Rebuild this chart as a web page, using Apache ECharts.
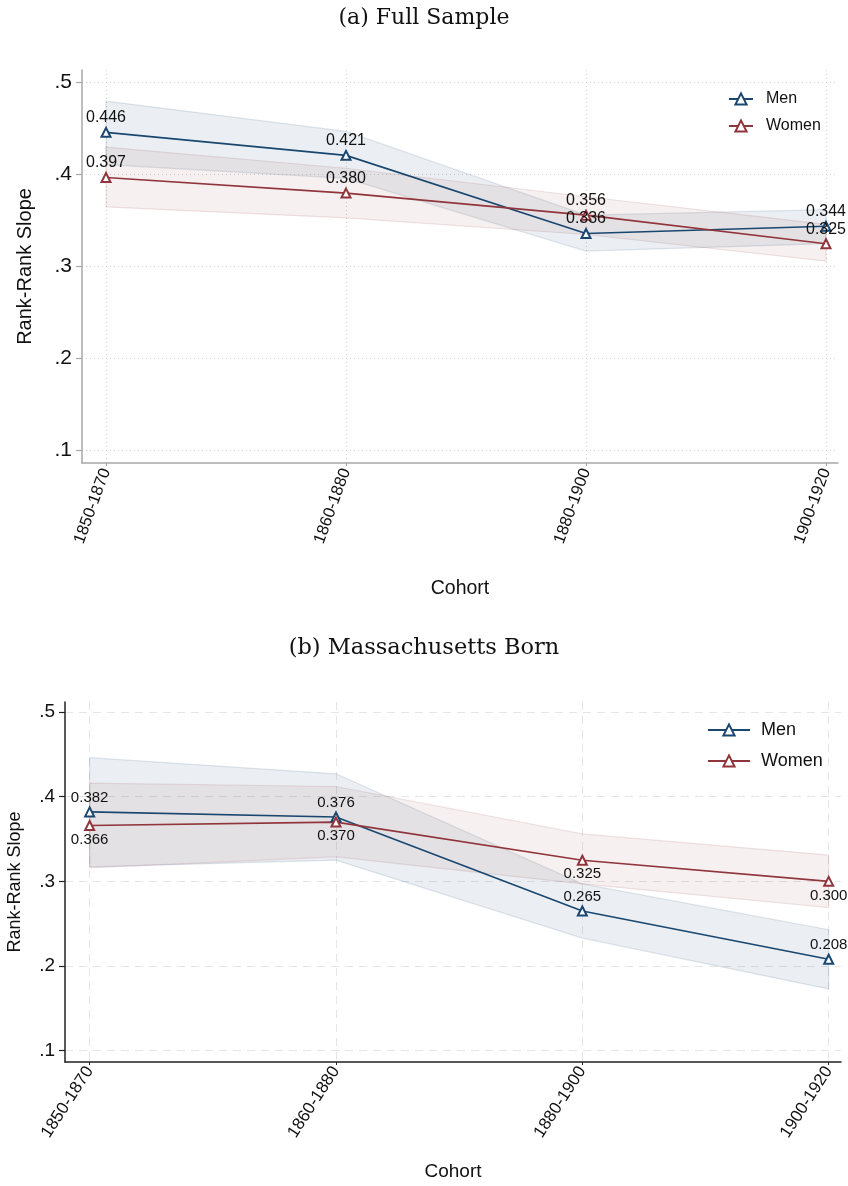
<!DOCTYPE html>
<html>
<head>
<meta charset="utf-8">
<script src="https://cdn.jsdelivr.net/npm/echarts@6/dist/echarts.min.js"></script>
<style>
  html, body { margin: 0; padding: 0; background: #fff; }
  #chart { width: 848px; height: 1186px; }
</style>
</head>
<body>
<div id="chart"></div>
<script>
// Birth cohorts on the horizontal axis
const cohorts = ['1850-1870', '1860-1880', '1880-1900', '1900-1920'];
const yTicks = [0.1, 0.2, 0.3, 0.4, 0.5];

// (a) Full sample: rank-rank slopes with 95% confidence bands
const fullMen = [0.446, 0.421, 0.336, 0.344];
const fullMenLo = [0.411, 0.396, 0.317, 0.325];
const fullMenHi = [0.480, 0.447, 0.356, 0.362];
const fullWomen = [0.397, 0.380, 0.356, 0.325];
const fullWomenLo = [0.365, 0.353, 0.335, 0.306];
const fullWomenHi = [0.430, 0.407, 0.376, 0.346];

// (b) Massachusetts born
const maMen = [0.382, 0.376, 0.265, 0.208];
const maMenLo = [0.317, 0.325, 0.233, 0.173];
const maMenHi = [0.446, 0.427, 0.297, 0.243];
const maWomen = [0.366, 0.370, 0.325, 0.300];
const maWomenLo = [0.316, 0.329, 0.297, 0.269];
const maWomenHi = [0.416, 0.412, 0.356, 0.331];

const NAVY = '#1a476f';
const MAROON = '#90353b';
const SANS = '"Liberation Sans", Arial, Helvetica, sans-serif';
const SERIF = '"DejaVu Serif", "Liberation Serif", serif';

const chart = echarts.init(document.getElementById('chart'), null, { renderer: 'canvas' });

const idx = cohorts.map((_, i) => i);
const pts = (vals) => vals.map((v, i) => [i, v]);

// Confidence band drawn as one polygon through the axis scales
function band(name, gi, lo, hi, color) {
  return {
    type: 'custom', name: name, xAxisIndex: gi, yAxisIndex: gi, z: 1,
    silent: true,
    data: idx.map(i => [i, lo[i], hi[i]]),
    encode: { x: 0, y: [1, 2] },
    renderItem: function (params, api) {
      if (params.dataIndex !== 0) return null;
      const upper = hi.map((v, i) => api.coord([i, v]));
      const lower = lo.map((v, i) => api.coord([i, v])).reverse();
      return {
        type: 'polygon',
        shape: { points: upper.concat(lower) },
        style: { fill: color.fill, stroke: color.stroke, lineWidth: 1.2 }
      };
    }
  };
}

function line(name, gi, vals, color, pos, fs) {
  return {
    type: 'line', name: name, xAxisIndex: gi, yAxisIndex: gi, z: 3,
    data: pts(vals),
    symbol: 'emptyTriangle', symbolSize: 9,
    lineStyle: { color: color, width: 1.6 },
    itemStyle: { color: color, borderColor: color, borderWidth: 1.5 },
    label: {
      show: true, position: pos, distance: 1,
      formatter: p => p.value[1].toFixed(3),
      color: '#111', fontFamily: SANS, fontSize: fs
    },
    emphasis: { disabled: true }
  };
}

function xAxis(gi, cfg) {
  return {
    type: 'value', gridIndex: gi, min: -0.1, max: 3.05,
    name: 'Cohort', nameLocation: 'middle', nameGap: cfg.nameGap,
    nameTextStyle: { fontFamily: SANS, fontSize: cfg.nameSize, color: '#111' },
    axisLine: { show: true, onZero: false, lineStyle: { color: cfg.axisColor, width: 1.5 } },
    axisTick: { show: true, length: 3, customValues: idx, lineStyle: { color: cfg.axisColor } },
    axisLabel: {
      customValues: idx, rotate: cfg.rotate, margin: 6,
      formatter: v => cohorts[Math.round(v)] || '',
      fontFamily: SANS, fontSize: cfg.labelSize, color: '#111'
    },
    splitLine: { show: true, lineStyle: { color: cfg.gridColor, type: cfg.gridType, width: 1 } }
  };
}

function yAxis(gi, cfg) {
  return {
    type: 'value', gridIndex: gi, min: cfg.min, max: cfg.max,
    name: 'Rank-Rank Slope', nameLocation: 'middle', nameGap: cfg.nameGap,
    nameTextStyle: { fontFamily: SANS, fontSize: cfg.nameSize, color: '#111' },
    axisLine: { show: true, onZero: false, lineStyle: { color: cfg.axisColor, width: 1.5 } },
    axisTick: { show: true, length: 6, customValues: yTicks, lineStyle: { color: cfg.axisColor, width: 1.2 } },
    axisLabel: {
      customValues: yTicks, margin: 10,
      formatter: v => String(Math.round(v * 10) / 10).replace(/^0/, ''),
      fontFamily: SANS, fontSize: cfg.labelSize, color: '#111'
    },
    splitLine: { show: true, lineStyle: { color: cfg.gridColor, type: cfg.gridType, width: 1 } }
  };
}

const blueBand = { fill: 'rgba(26,71,111,0.085)', stroke: 'rgba(26,71,111,0.13)' };
const redBand = { fill: 'rgba(144,53,59,0.075)', stroke: 'rgba(144,53,59,0.13)' };

const option = {
  backgroundColor: '#fff',
  animation: false,
  title: [
    { text: '(a) Full Sample', left: 'center', top: 2,
      textStyle: { fontFamily: SERIF, fontWeight: 'normal', fontSize: 22, color: '#111' } },
    { text: '(b) Massachusetts Born', left: 'center', top: 632,
      textStyle: { fontFamily: SERIF, fontWeight: 'normal', fontSize: 22.5, color: '#111' } }
  ],
  legend: [
    { orient: 'vertical', left: 723, top: 86, itemWidth: 24, itemHeight: 14, itemGap: 11,
      data: ['Men', 'Women'],
      textStyle: { fontFamily: SANS, fontSize: 16, color: '#111', padding: [0, 0, 0, 8] } },
    { orient: 'vertical', left: 702, top: 716, itemWidth: 42, itemHeight: 14, itemGap: 13,
      data: ['Men', 'Women'],
      textStyle: { fontFamily: SANS, fontSize: 18, color: '#111', padding: [0, 0, 0, 6] } }
  ],
  grid: [
    { left: 82, right: 10, top: 70, height: 393, outerBoundsMode: 'none' },
    { left: 65, right: 7, top: 702, height: 360, outerBoundsMode: 'none' }
  ],
  xAxis: [
    xAxis(0, { nameGap: 116, nameSize: 19.5, axisColor: '#a8a8a8', rotate: 70, labelSize: 16.5,
               gridColor: '#d0d0d0', gridType: [1, 3] }),
    xAxis(1, { nameGap: 100, nameSize: 19, axisColor: '#222', rotate: 57, labelSize: 17,
               gridColor: '#e6e6e6', gridType: [8, 6] })
  ],
  yAxis: [
    yAxis(0, { min: 0.0866, max: 0.5138, nameGap: 47, nameSize: 20, axisColor: '#a8a8a8', labelSize: 21,
               gridColor: '#d0d0d0', gridType: [1, 3] }),
    yAxis(1, { min: 0.0867, max: 0.5118, nameGap: 41, nameSize: 18, axisColor: '#222', labelSize: 19,
               gridColor: '#e6e6e6', gridType: [8, 6] })
  ],
  series: [
    band('Men CI (a)', 0, fullMenLo, fullMenHi, blueBand),
    band('Women CI (a)', 0, fullWomenLo, fullWomenHi, redBand),
    line('Men', 0, fullMen, NAVY, 'top', 16),
    line('Women', 0, fullWomen, MAROON, 'top', 16),
    band('Men CI (b)', 1, maMenLo, maMenHi, blueBand),
    band('Women CI (b)', 1, maWomenLo, maWomenHi, redBand),
    line('Men', 1, maMen, NAVY, 'top', 15),
    line('Women', 1, maWomen, MAROON, 'bottom', 15)
  ]
};

chart.setOption(option);
</script>
</body>
</html>
